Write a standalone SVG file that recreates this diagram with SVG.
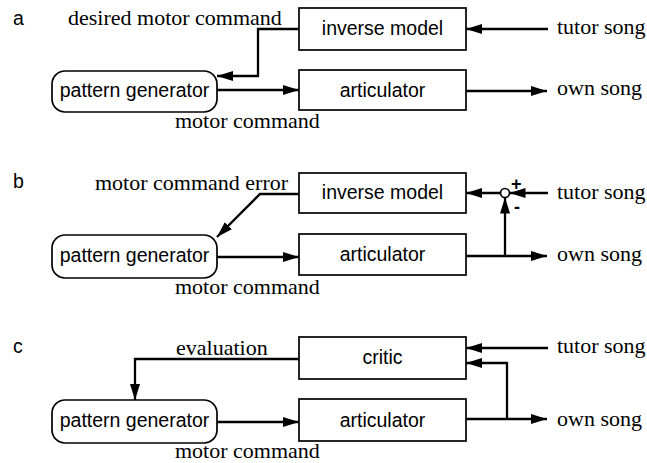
<svg xmlns="http://www.w3.org/2000/svg" width="647" height="463" viewBox="0 0 647 463">
<defs>
<marker id="ah" markerUnits="userSpaceOnUse" markerWidth="17" markerHeight="11" refX="16" refY="5" orient="auto">
<path d="M0,0 L16,5 L0,10 z" fill="#000"/>
</marker>
<style>
.box{fill:#fff;stroke:#000;stroke-width:1.7}
.sans{font-family:"Liberation Sans",Arial,sans-serif;font-size:19.5px;fill:#000}
.ser{font-family:"Liberation Serif","Times New Roman",serif;font-size:22px;fill:#000}
.c{text-anchor:middle}
.ln{fill:none;stroke:#000;stroke-width:2.3}
.sg{font-family:"Liberation Sans",Arial,sans-serif;font-size:18px;font-weight:bold;fill:#000}
</style>
</defs>
<rect width="647" height="463" fill="#fff"/>

<g id="panel-labels">
<text class="sans" x="13" y="25">a</text>
<text class="sans" x="13" y="188">b</text>
<text class="sans" x="13" y="353">c</text>
</g>

<!-- panel a -->
<g id="a-inverse-model"><rect class="box" x="299" y="8" width="167" height="42"/><text class="sans c" x="382.5" y="35">inverse model</text></g>
<g id="a-articulator"><rect class="box" x="299" y="70" width="167" height="40"/><text class="sans c" x="382.5" y="97">articulator</text></g>
<g id="a-pattern-generator"><rect class="box" x="52" y="71" width="165" height="41" rx="13"/><text class="sans c" x="134.5" y="97">pattern generator</text></g>

<!-- panel b -->
<g id="b-inverse-model"><rect class="box" x="299" y="173" width="167" height="40"/><text class="sans c" x="382.5" y="199">inverse model</text></g>
<g id="b-articulator"><rect class="box" x="299" y="234" width="167" height="41"/><text class="sans c" x="382.5" y="261">articulator</text></g>
<g id="b-pattern-generator"><rect class="box" x="52" y="235" width="165" height="43" rx="13"/><text class="sans c" x="134.5" y="262">pattern generator</text></g>
<g id="b-sum"><circle cx="505" cy="193" r="4.5" fill="#fff" stroke="#000" stroke-width="1.7"/><text class="sg" x="511" y="190">+</text><text class="sg" x="514" y="213">-</text></g>

<!-- panel c -->
<g id="c-critic"><rect class="box" x="299" y="337" width="167" height="42"/><text class="sans c" x="382.5" y="364">critic</text></g>
<g id="c-articulator"><rect class="box" x="299" y="399" width="167" height="42"/><text class="sans c" x="382.5" y="427">articulator</text></g>
<g id="c-pattern-generator"><rect class="box" x="52" y="400" width="165" height="43" rx="13"/><text class="sans c" x="134.5" y="427">pattern generator</text></g>

<g id="connectors">
<path class="ln" d="M299,29 H258 V76 H217" marker-end="url(#ah)"/>
<path class="ln" d="M217,90 H299" marker-end="url(#ah)"/>
<path class="ln" d="M548,29 H466" marker-end="url(#ah)"/>
<path class="ln" d="M466,91 H547" marker-end="url(#ah)"/>

<path class="ln" d="M299,194 H260 L217,237" marker-end="url(#ah)"/>
<path class="ln" d="M217,257 H299" marker-end="url(#ah)"/>
<path class="ln" d="M548,193 H509.5" marker-end="url(#ah)"/>
<path class="ln" d="M500.5,193 H466" marker-end="url(#ah)"/>
<path class="ln" d="M466,256 H547" marker-end="url(#ah)"/>
<path class="ln" d="M505,256 V197.5" marker-end="url(#ah)"/>

<path class="ln" d="M299,359 H135 V400" marker-end="url(#ah)"/>
<path class="ln" d="M217,422 H299" marker-end="url(#ah)"/>
<path class="ln" d="M548,348 H466" marker-end="url(#ah)"/>
<path class="ln" d="M466,419 H547" marker-end="url(#ah)"/>
<path class="ln" d="M507,419 V363 H466" marker-end="url(#ah)"/>
</g>

<g id="labels">
<text class="ser" x="68" y="25">desired motor command</text>
<text class="ser" x="175" y="128">motor command</text>
<text class="ser" x="557" y="34">tutor song</text>
<text class="ser" x="557" y="95">own song</text>

<text class="ser" x="95" y="190">motor command error</text>
<text class="ser" x="175" y="294">motor command</text>
<text class="ser" x="557" y="199">tutor song</text>
<text class="ser" x="557" y="261">own song</text>

<text class="ser" x="176" y="355">evaluation</text>
<text class="ser" x="175" y="458">motor command</text>
<text class="ser" x="557" y="353">tutor song</text>
<text class="ser" x="557" y="426">own song</text>
</g>
</svg>
